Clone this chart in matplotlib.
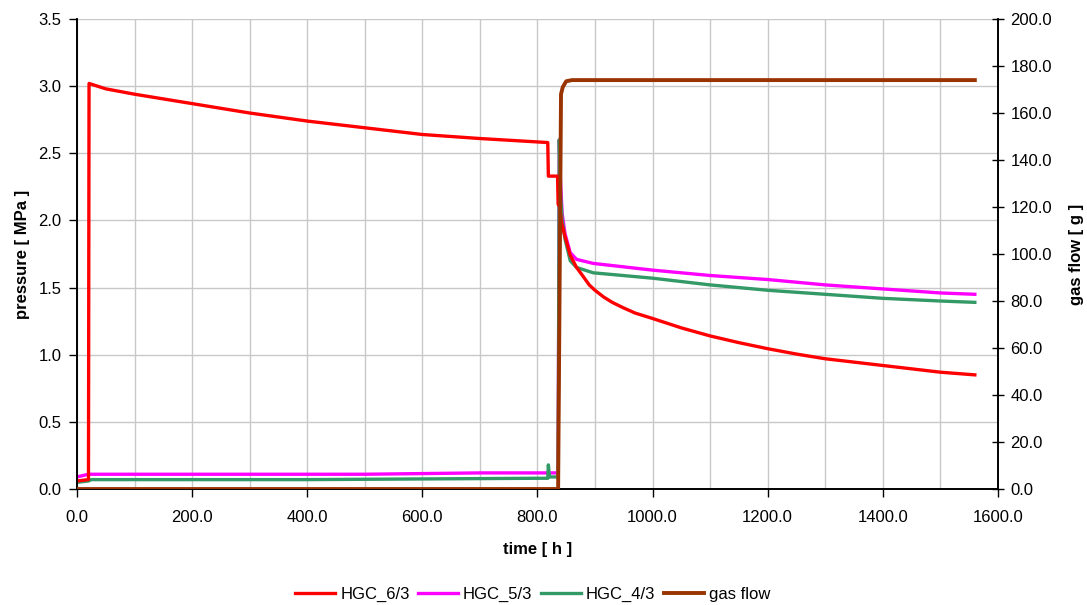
import matplotlib
matplotlib.use("Agg")
import matplotlib.pyplot as plt
from matplotlib.ticker import MultipleLocator, FormatStrFormatter

plt.rcParams['font.family'] = ['Liberation Sans', 'DejaVu Sans']

# HGC_6/3 pressure [MPa]
t_hgc6 = [0, 20, 21, 50, 100, 200, 300, 400, 500, 600, 700, 818, 819, 835, 836, 839,
          842, 848, 857, 868, 880, 890, 900, 915, 930, 949, 970, 1000, 1050, 1100, 1150,
          1200, 1250, 1300, 1350, 1400, 1450, 1500, 1560]
p_hgc6 = [0.06, 0.07, 3.02, 2.98, 2.94, 2.87, 2.80, 2.74, 2.69, 2.64, 2.61, 2.58, 2.33, 2.33, 2.12, 2.10,
          1.98, 1.88, 1.74, 1.65, 1.58, 1.52, 1.48, 1.43, 1.39, 1.35, 1.31, 1.27, 1.20, 1.14, 1.09,
          1.045, 1.005, 0.97, 0.945, 0.92, 0.895, 0.87, 0.85]

# HGC_5/3 pressure [MPa]
t_hgc5 = [0, 20, 100, 300, 500, 600, 700, 800, 836, 838, 840, 843, 848, 857, 868,
          897, 1000, 1100, 1200, 1300, 1400, 1500, 1560]
p_hgc5 = [0.09, 0.11, 0.11, 0.11, 0.11, 0.115, 0.12, 0.12, 0.12, 2.6, 2.3, 2.05, 1.90, 1.76, 1.71,
          1.68, 1.63, 1.59, 1.56, 1.52, 1.49, 1.46, 1.45]

# HGC_4/3 pressure [MPa]
t_hgc4 = [0, 20, 25, 200, 400, 600, 800, 818, 819, 821, 836, 838, 840, 843, 848, 857,
          868, 897, 1000, 1100, 1200, 1300, 1400, 1500, 1560]
p_hgc4 = [0.05, 0.06, 0.07, 0.07, 0.07, 0.075, 0.08, 0.08, 0.18, 0.09, 0.09, 2.6, 2.2, 2.0, 1.86, 1.70,
          1.65, 1.61, 1.57, 1.52, 1.48, 1.45, 1.42, 1.40, 1.39]

# gas flow [g]
t_gas = [0, 836, 841, 844, 850, 860, 1560]
g_gas = [0.0, 0.0, 168.0, 171.0, 173.5, 174.0, 174.0]

fig = plt.figure(figsize=(10.87, 6.05), dpi=100)
ax = fig.add_axes([0.0708, 0.1917, 0.8472, 0.7769])
ax2 = ax.twinx()

lw = 2.4
l1, = ax.plot(t_hgc6, p_hgc6, color='#FF0000', lw=lw, label='HGC_6/3', zorder=3)
l2, = ax.plot(t_hgc5, p_hgc5, color='#FF00FF', lw=lw, label='HGC_5/3', zorder=2)
l3, = ax.plot(t_hgc4, p_hgc4, color='#339966', lw=lw, label='HGC_4/3', zorder=2)
l4, = ax2.plot(t_gas, g_gas, color='#993300', lw=lw + 0.4, label='gas flow', zorder=4)

ax.set_xlim(0, 1600)
ax.set_ylim(0, 3.5)
ax2.set_ylim(0, 200)

ax.xaxis.set_major_locator(MultipleLocator(200))
ax.xaxis.set_minor_locator(MultipleLocator(100))
ax.yaxis.set_major_locator(MultipleLocator(0.5))
ax2.yaxis.set_major_locator(MultipleLocator(20))
ax.xaxis.set_major_formatter(FormatStrFormatter('%.1f'))
ax.yaxis.set_major_formatter(FormatStrFormatter('%.1f'))
ax2.yaxis.set_major_formatter(FormatStrFormatter('%.1f'))

ax.grid(True, which='both', axis='x', color='#c8c8c8', lw=1.0)
ax.grid(True, which='major', axis='y', color='#c8c8c8', lw=1.0)
ax.set_axisbelow(True)

for a in (ax, ax2):
    a.spines['top'].set_visible(False)
    a.spines['left'].set_linewidth(1.2)
    a.spines['right'].set_linewidth(1.2)
    a.spines['bottom'].set_linewidth(1.2)

ax.tick_params(axis='y', which='major', labelsize=12, direction='out', length=6, width=1, pad=5)
ax.tick_params(axis='x', which='major', labelsize=12, direction='out', length=6, width=1, pad=9)
ax.tick_params(axis='x', which='minor', length=0)
ax2.tick_params(axis='y', which='major', labelsize=12, direction='inout', length=8, width=1, pad=5)

ax.set_xlabel('time [ h ]', fontsize=12, fontweight='bold', labelpad=12)
ax.set_ylabel('pressure [ MPa ]', fontsize=12, fontweight='bold', labelpad=6)
ax2.set_ylabel('gas flow [ g ]', fontsize=12, fontweight='bold', labelpad=12)

fig.legend(handles=[l1, l2, l3, l4], loc='center', bbox_to_anchor=(0.49, 0.017),
           ncol=4, frameon=False, fontsize=12, handlelength=2.4, handletextpad=0.3,
           columnspacing=0.5)

fig.savefig('out.png', dpi=100)
